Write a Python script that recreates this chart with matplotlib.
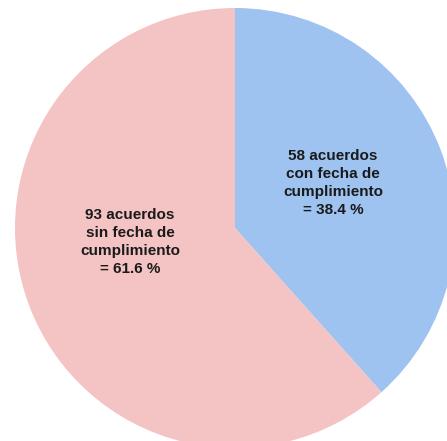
import matplotlib
matplotlib.use("Agg")
import matplotlib.pyplot as plt

categories = ["con fecha de cumplimiento", "sin fecha de cumplimiento"]
counts = [58, 93]
percents = [38.4, 61.6]
colors = ["#9EC3F0", "#F4C3C3"]

plt.rcParams['font.family'] = ['Liberation Sans', 'DejaVu Sans']

fig = plt.figure(figsize=(4.47, 4.41), dpi=100)
ax = fig.add_axes([0, 0, 1, 1])
ax.pie(counts, colors=colors, startangle=90, counterclock=False,
       radius=1.0, center=(0, 0), wedgeprops=dict(linewidth=0))

labels = [f"{counts[0]} acuerdos\ncon fecha de\ncumplimiento\n= {percents[0]} %",
          f"{counts[1]} acuerdos\nsin fecha de\ncumplimiento\n= {percents[1]} %"]
label_pos = [(0.445, 0.205), (-0.477, -0.064)]
for lab, (x, y) in zip(labels, label_pos):
    ax.text(x, y, lab, ha="center", va="center", fontsize=11,
            fontweight="bold", color="#1a1a1a", linespacing=1.35)

ax.set_xlim(-235 / 220, (447 - 235) / 220)
ax.set_ylim(-(441 - 228) / 220, 228 / 220)
ax.set_aspect("equal")
ax.axis("off")
fig.savefig("out.png", dpi=100)
